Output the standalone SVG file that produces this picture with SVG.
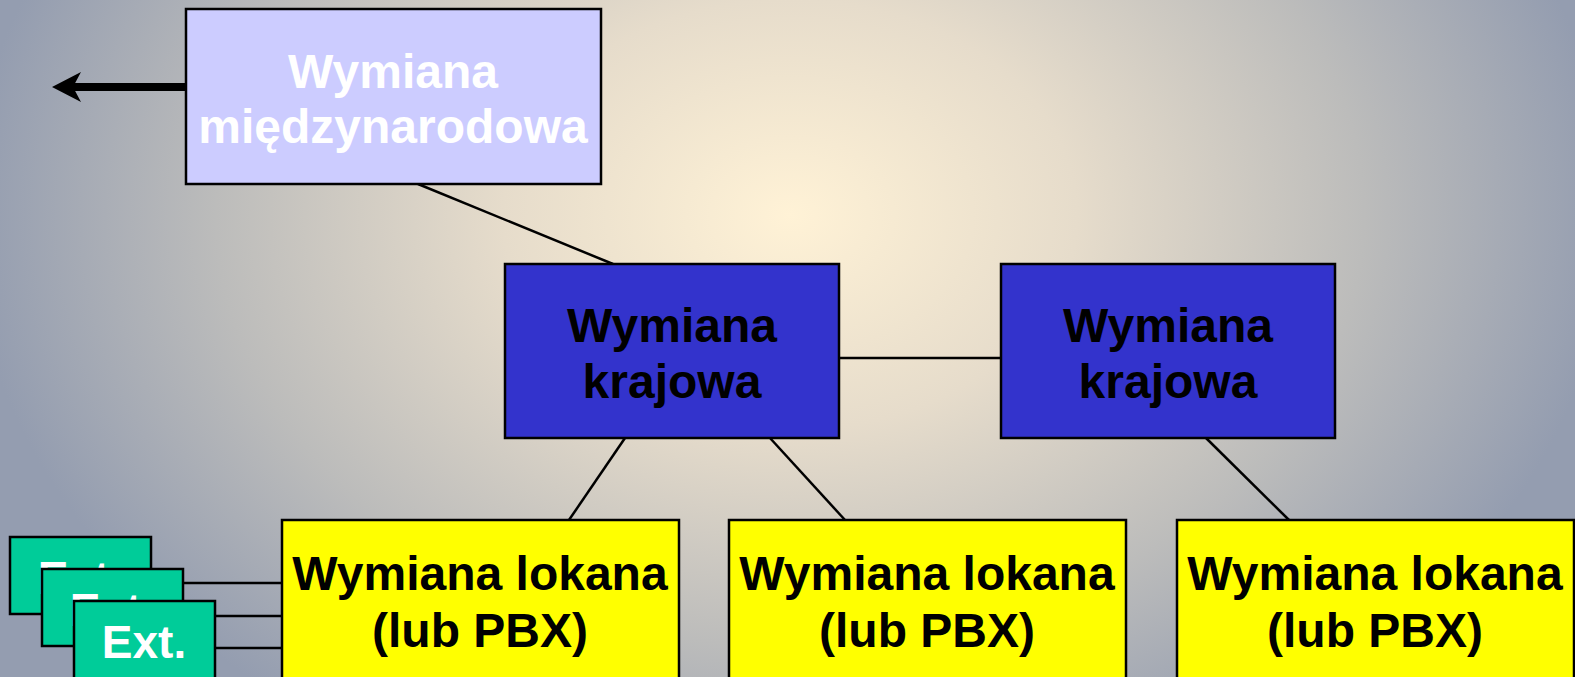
<svg xmlns="http://www.w3.org/2000/svg" width="1575" height="677" viewBox="0 0 1575 677">
<defs>
<radialGradient id="bg" gradientUnits="userSpaceOnUse" cx="790" cy="215" r="820" gradientTransform="translate(790 215) scale(1 0.75) translate(-790 -215)">
<stop offset="0" stop-color="#fff2d6"/>
<stop offset="0.35" stop-color="#e6dccb"/>
<stop offset="0.7" stop-color="#bcbcbb"/>
<stop offset="1" stop-color="#949db0"/>
</radialGradient>
<style>
.box{stroke:#000;stroke-width:2.5}
.t{font-family:"Liberation Sans",Arial,sans-serif;font-weight:bold;font-size:48px;text-anchor:middle}
.conn line{stroke:#000;stroke-width:2.5}
</style>
</defs>
<rect width="1575" height="677" fill="url(#bg)"/>
<g class="conn">
<line x1="418" y1="184" x2="613" y2="264"/>
<line x1="839" y1="358" x2="1001" y2="358"/>
<line x1="625" y1="438" x2="569" y2="520"/>
<line x1="770" y1="438" x2="845" y2="520"/>
<line x1="1206" y1="438" x2="1289" y2="520"/>
<line x1="151" y1="583" x2="282" y2="583"/>
<line x1="183" y1="616" x2="282" y2="616"/>
<line x1="215" y1="648" x2="282" y2="648"/>
<line x1="186" y1="87" x2="72" y2="87" style="stroke-width:8"/>
<polygon points="52,87 81,72 73,87 81,102" fill="#000"/>
</g>
<g id="intl">
<rect class="box" x="186" y="9" width="415" height="175" fill="#ccccff"/>
<text class="t" x="393" y="88" fill="#fff">Wymiana</text>
<text class="t" x="393" y="143" fill="#fff">międzynarodowa</text>
</g>
<g id="kraj1">
<rect class="box" x="505" y="264" width="334" height="174" fill="#3333cc"/>
<text class="t" x="672" y="342" fill="#000">Wymiana</text>
<text class="t" x="672" y="398" fill="#000">krajowa</text>
</g>
<g id="kraj2">
<rect class="box" x="1001" y="264" width="334" height="174" fill="#3333cc"/>
<text class="t" x="1168" y="342" fill="#000">Wymiana</text>
<text class="t" x="1168" y="398" fill="#000">krajowa</text>
</g>
<g id="lok1">
<rect class="box" x="282" y="520" width="397" height="170" fill="#ffff00"/>
<text class="t" x="480" y="590" fill="#000">Wymiana lokana</text>
<text class="t" x="480" y="647" fill="#000">(lub PBX)</text>
</g>
<g id="lok2">
<rect class="box" x="729" y="520" width="397" height="170" fill="#ffff00"/>
<text class="t" x="927" y="590" fill="#000">Wymiana lokana</text>
<text class="t" x="927" y="647" fill="#000">(lub PBX)</text>
</g>
<g id="lok3">
<rect class="box" x="1177" y="520" width="397" height="170" fill="#ffff00"/>
<text class="t" x="1375" y="590" fill="#000">Wymiana lokana</text>
<text class="t" x="1375" y="647" fill="#000">(lub PBX)</text>
</g>
<g id="ext1">
<rect class="box" x="10" y="537" width="141" height="77" fill="#00cc99"/>
<text class="t" x="80" y="594" fill="#fff" style="font-size:46px">Ext.</text>
</g>
<g id="ext2">
<rect class="box" x="42" y="569" width="141" height="77" fill="#00cc99"/>
<text class="t" x="112" y="626" fill="#fff" style="font-size:46px">Ext.</text>
</g>
<g id="ext3">
<rect class="box" x="74" y="601" width="141" height="80" fill="#00cc99"/>
<text class="t" x="144" y="658" fill="#fff" style="font-size:46px">Ext.</text>
</g>
</svg>
